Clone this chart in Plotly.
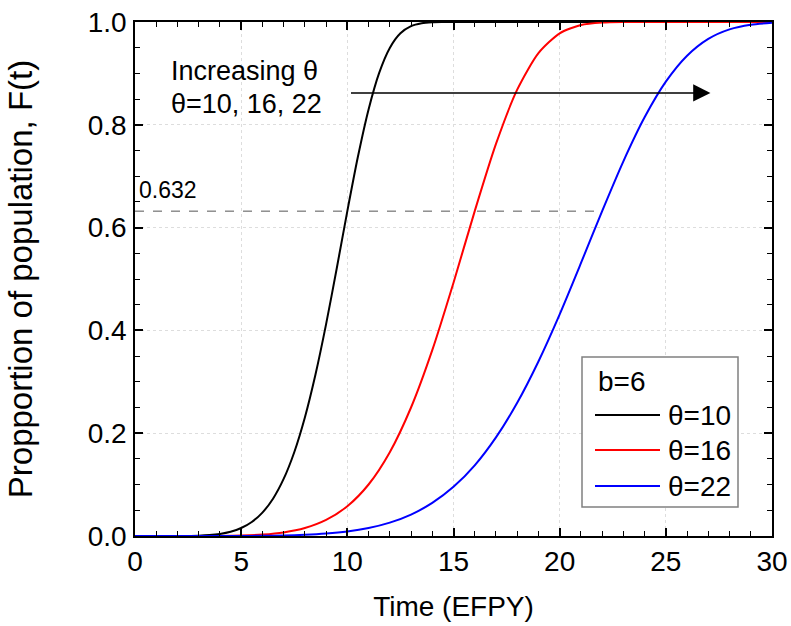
import plotly.graph_objects as go

# ---- data ----
t_theta10 = [0, 1, 2, 3, 3.5, 4, 4.5, 5, 5.5, 6, 6.5, 7, 7.5, 8, 8.5, 9, 9.5, 10, 10.5, 11, 11.5, 12, 12.5, 13, 13.5, 14, 14.5, 15, 16, 20, 25, 30]
F_theta10 = [0, 0.0000, 0.0001, 0.0007, 0.0018, 0.0041, 0.0083, 0.0155, 0.0273, 0.0456, 0.0726, 0.1110, 0.1630, 0.2306, 0.3142, 0.4122, 0.5205, 0.6321, 0.7382, 0.8299, 0.9010, 0.9495, 0.9780, 0.9920, 0.9976, 0.9995, 0.9999, 1.0, 1.0, 1.0, 1.0, 1.0]

t_theta16 = [0, 1, 2, 3, 4, 5, 6, 7, 8, 9, 10, 11, 12, 13, 14, 15, 16, 17, 18, 19, 20, 21, 22, 23, 24, 27, 30]
F_theta16 = [0, 0.0000, 0.0000, 0.0000, 0.0002, 0.0009, 0.0028, 0.0070, 0.0155, 0.0312, 0.0579, 0.1002, 0.1630, 0.2500, 0.3616, 0.4928, 0.6321, 0.7628, 0.8683, 0.9394, 0.9780, 0.9940, 0.9988, 0.9999, 1.0, 1.0, 1.0]

t_theta22 = [0, 1, 2, 3, 4, 5, 6, 7, 8, 9, 10, 11, 12, 13, 14, 15, 16, 17, 18, 19, 20, 21, 22, 23, 24, 25, 26, 27, 28, 29, 30]
F_theta22 = [0, 0.0000, 0.0000, 0.0000, 0.0000, 0.0001, 0.0004, 0.0010, 0.0023, 0.0047, 0.0088, 0.0155, 0.0260, 0.0417, 0.0643, 0.0956, 0.1375, 0.1918, 0.2592, 0.3396, 0.4313, 0.5307, 0.6321, 0.7290, 0.8146, 0.8839, 0.9344, 0.9672, 0.9857, 0.9947, 0.9984]

series_names = ["θ=10", "θ=16", "θ=22"]
series_colors = ["#000000", "#ff0000", "#0000ff"]
legend_title = "b=6"

x_ticks = [0, 5, 10, 15, 20, 25, 30]
y_ticks = [0.0, 0.2, 0.4, 0.6, 0.8, 1.0]
y_tick_labels = ["0.0", "0.2", "0.4", "0.6", "0.8", "1.0"]

ref_level = 0.632
ref_x_end = 22
arrow_y = 0.862
arrow_x_start = 10.1
arrow_x_end = 27.1

FONT = "Arial, Liberation Sans, sans-serif"

fig = go.Figure()
for t, F, name, col in zip([t_theta10, t_theta16, t_theta22],
                           [F_theta10, F_theta16, F_theta22],
                           series_names, series_colors):
    fig.add_trace(go.Scatter(x=t, y=F, mode="lines", name=name,
                             line=dict(color=col, width=2, shape="spline", smoothing=0.7),
                             showlegend=False, cliponaxis=True))

# page body margin is removed (see write_html), so the figure fills the window
W, H = 791, 626
ML, MR, MT, MB = 135, 19, 22, 90
PW, PH = W - ML - MR, H - MT - MB

def px(xp):  # window pixel -> paper fraction
    return (xp - ML) / PW

def py(yp):
    return (H - MB - yp) / PH

shapes = []
annotations = []

# reference dashed line
shapes.append(dict(type="line", xref="x", yref="y", x0=0, x1=ref_x_end, y0=ref_level, y1=ref_level,
                   line=dict(color="#555555", width=1, dash="dash")))
annotations.append(dict(xref="x", yref="y", x=0.1, y=ref_level + 0.042, text=f"{ref_level:.3f}",
                        showarrow=False, xanchor="left", yanchor="middle",
                        font=dict(family=FONT, size=23, color="#000")))

# arrow
annotations.append(dict(xref="x", yref="y", axref="x", ayref="y",
                        x=arrow_x_end, y=arrow_y, ax=arrow_x_start, ay=arrow_y,
                        text="", showarrow=True, arrowhead=2, arrowsize=2.3, arrowwidth=1.5,
                        arrowcolor="#000"))
annotations.append(dict(xref="paper", yref="paper", x=px(169), y=py(71), text="Increasing θ",
                        showarrow=False, xanchor="left", yanchor="middle",
                        font=dict(family=FONT, size=27, color="#000")))
annotations.append(dict(xref="paper", yref="paper", x=px(169), y=py(104), text="θ=10, 16, 22",
                        showarrow=False, xanchor="left", yanchor="middle",
                        font=dict(family=FONT, size=27, color="#000")))

# legend (drawn)
shapes.append(dict(type="rect", xref="paper", yref="paper", x0=px(582), x1=px(738), y0=py(507), y1=py(357),
                   line=dict(color="#808080", width=1.5), fillcolor="white", layer="above"))
annotations.append(dict(xref="paper", yref="paper", x=px(596), y=py(381), text=legend_title,
                        showarrow=False, xanchor="left", yanchor="middle",
                        font=dict(family=FONT, size=28, color="#000")))
for yy, name, col in zip([415, 450, 486], series_names, series_colors):
    shapes.append(dict(type="line", xref="paper", yref="paper", x0=px(595), x1=px(660), y0=py(yy), y1=py(yy),
                       line=dict(color=col, width=2), layer="above"))
    annotations.append(dict(xref="paper", yref="paper", x=px(666), y=py(yy), text=name,
                            showarrow=False, xanchor="left", yanchor="middle",
                            font=dict(family=FONT, size=28, color="#000")))

axis_common = dict(showline=True, linecolor="#000", linewidth=1.5, mirror="allticks",
                   ticks="inside", ticklen=8, tickwidth=1.5, tickcolor="#000",
                   showgrid=True, gridcolor="#dddddd", griddash="dot", gridwidth=1,
                   zeroline=False, automargin=False, ticklabeloverflow="allow",
                   tickfont=dict(family=FONT, size=28, color="#000"))

fig.update_layout(
    width=W, height=H,
    margin=dict(l=ML, r=MR, t=MT, b=MB),
    paper_bgcolor="white", plot_bgcolor="white",
    shapes=shapes, annotations=annotations,
    xaxis=dict(range=[0, 30], tickvals=x_ticks, ticklabelstandoff=0,
               minor=dict(dtick=1, ticks="inside", ticklen=5, tickcolor="#000", tickwidth=1.2, showgrid=False),
               title=dict(text="Time (EFPY)", font=dict(family=FONT, size=28, color="#000"), standoff=20),
               **axis_common),
    yaxis=dict(range=[0, 1.0], tickvals=y_ticks, ticktext=y_tick_labels, ticklabelstandoff=1,
               minor=dict(dtick=0.05, ticks="inside", ticklen=5, tickcolor="#000", tickwidth=1.2, showgrid=False),
               title=dict(text="Propportion of population, F(t)", font=dict(family=FONT, size=33, color="#000"), standoff=45),
               **axis_common),
)

fig.write_html("out.html",
               config={"displayModeBar": False},
               post_script="document.body.style.margin='0';document.body.style.overflow='hidden';")
